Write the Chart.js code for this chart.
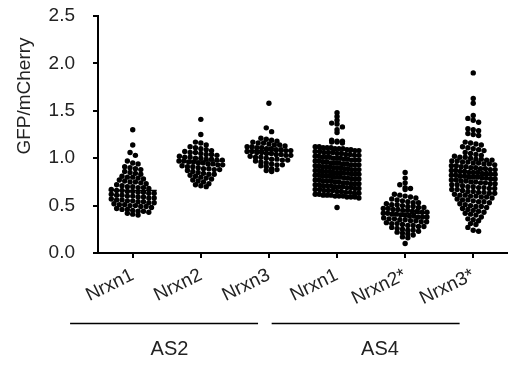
<!DOCTYPE html>
<html>
<head>
<meta charset="utf-8">
<script src="https://cdn.jsdelivr.net/npm/chart.js@4.4.1/dist/chart.umd.min.js"></script>
<style>
  html, body { margin: 0; padding: 0; background: #fff; }
  #wrap { width: 510px; height: 365px; }
</style>
</head>
<body>
<div id="wrap"><canvas id="mySwarmChart"></canvas></div>
<script>
// categories along the x axis and the two construct groups below them
const categories = ["Nrxn1", "Nrxn2", "Nrxn3", "Nrxn1", "Nrxn2*", "Nrxn3*"];
const groupLabels = ["AS2", "AS4"];
const yTicks = [0, 0.5, 1.0, 1.5, 2.0, 2.5];

// GFP/mCherry ratio per cell
const as2Nrxn1 = [
  1.30, 1.14, 1.06, 1.03, 0.97, 0.95, 0.94, 0.91, 0.90, 0.89, 0.88,
  0.86, 0.85, 0.84, 0.83, 0.81, 0.80, 0.80, 0.79, 0.78,
  0.77, 0.76, 0.75, 0.75, 0.74, 0.73, 0.72, 0.71, 0.70, 0.70, 0.69, 0.69, 0.68,
  0.67, 0.66, 0.66, 0.65, 0.65, 0.64, 0.64, 0.63, 0.63,
  0.62, 0.61, 0.61, 0.60, 0.60, 0.59, 0.59, 0.58, 0.58,
  0.57, 0.56, 0.56, 0.55, 0.55, 0.54, 0.54, 0.53, 0.53,
  0.52, 0.51, 0.51, 0.50, 0.50, 0.49, 0.49, 0.48,
  0.47, 0.46, 0.46, 0.45, 0.44, 0.44, 0.43, 0.42, 0.41, 0.40
];
const as2Nrxn2 = [
  1.41, 1.25, 1.17, 1.16, 1.14, 1.12, 1.11, 1.10, 1.09, 1.08,
  1.07, 1.06, 1.06, 1.05, 1.04, 1.04, 1.03,
  1.02, 1.01, 1.01, 1.00, 1.00, 0.99, 0.99, 0.98, 0.98,
  0.97, 0.97, 0.96, 0.96, 0.95, 0.95, 0.94, 0.94, 0.93, 0.93,
  0.92, 0.91, 0.91, 0.90, 0.89, 0.89, 0.88, 0.88,
  0.87, 0.86, 0.85, 0.84, 0.83, 0.83, 0.82, 0.81, 0.80, 0.79, 0.78,
  0.77, 0.76, 0.75, 0.73, 0.72, 0.71, 0.70
];
const as2Nrxn3 = [
  1.58, 1.32, 1.28, 1.21, 1.20, 1.19, 1.18,
  1.17, 1.16, 1.16, 1.15, 1.14, 1.14, 1.13,
  1.12, 1.12, 1.11, 1.11, 1.10, 1.10, 1.09, 1.09, 1.08, 1.08,
  1.07, 1.07, 1.06, 1.06, 1.05, 1.05, 1.04, 1.04, 1.03, 1.03,
  1.02, 1.01, 1.01, 1.00, 0.99, 0.99, 0.98, 0.98,
  0.97, 0.96, 0.95, 0.94, 0.93, 0.93, 0.92, 0.91, 0.89, 0.88, 0.87, 0.86
];
const as4Nrxn1 = [
  1.48, 1.44, 1.40, 1.37, 1.36, 1.33, 1.30, 1.27,
  1.19, 1.18, 1.18, 1.17, 1.17, 1.16,
  1.12, 1.12, 1.11, 1.11, 1.11, 1.10, 1.10, 1.10, 1.09, 1.09, 1.08, 1.08,
  1.07, 1.07, 1.06, 1.06, 1.06, 1.05, 1.05, 1.04, 1.04, 1.03, 1.03,
  1.02, 1.02, 1.01, 1.01, 1.01, 1.00, 1.00, 1.00, 0.99, 0.99, 0.98, 0.98, 0.98,
  0.97, 0.97, 0.96, 0.96, 0.95, 0.95, 0.95, 0.94, 0.94, 0.93, 0.93, 0.93,
  0.92, 0.92, 0.91, 0.91, 0.91, 0.90, 0.90, 0.90, 0.89, 0.89, 0.88, 0.88, 0.88,
  0.87, 0.87, 0.86, 0.86, 0.86, 0.85, 0.85, 0.85, 0.84, 0.84, 0.83, 0.83, 0.83,
  0.82, 0.82, 0.81, 0.81, 0.81, 0.80, 0.80, 0.80, 0.79, 0.79, 0.78, 0.78, 0.78,
  0.77, 0.77, 0.76, 0.76, 0.76, 0.75, 0.75, 0.74, 0.74, 0.73, 0.73, 0.73,
  0.72, 0.72, 0.71, 0.71, 0.71, 0.70, 0.70, 0.70, 0.69, 0.69, 0.68, 0.68,
  0.67, 0.67, 0.66, 0.66, 0.66, 0.65, 0.65, 0.64, 0.64, 0.63, 0.63,
  0.62, 0.62, 0.61, 0.61, 0.61, 0.60, 0.60, 0.60, 0.59, 0.59, 0.59, 0.58,
  0.48
];
const as4Nrxn2 = [
  0.85, 0.79, 0.74, 0.72, 0.69, 0.68, 0.67,
  0.62, 0.61, 0.60, 0.59, 0.58, 0.57, 0.56, 0.55, 0.54, 0.53, 0.53,
  0.52, 0.51, 0.51, 0.50, 0.49, 0.49, 0.48, 0.48,
  0.47, 0.47, 0.46, 0.46, 0.45, 0.45, 0.44, 0.44, 0.43, 0.43,
  0.42, 0.42, 0.41, 0.41, 0.40, 0.40, 0.39, 0.39, 0.38, 0.38, 0.38,
  0.37, 0.36, 0.36, 0.35, 0.35, 0.34, 0.34, 0.33, 0.33,
  0.32, 0.31, 0.31, 0.30, 0.29, 0.29, 0.28, 0.28,
  0.27, 0.26, 0.25, 0.24, 0.24, 0.23, 0.22, 0.21, 0.20, 0.19,
  0.17, 0.16, 0.10
];
const as4Nrxn3 = [
  1.90, 1.63, 1.58, 1.45, 1.42, 1.40, 1.38,
  1.31, 1.30, 1.29, 1.26, 1.25, 1.24,
  1.17, 1.16, 1.15, 1.14, 1.12, 1.11, 1.10, 1.09, 1.08, 1.06, 1.05, 1.04, 1.03,
  1.02, 1.01, 1.01, 1.00, 0.99, 0.99, 0.98, 0.98,
  0.97, 0.97, 0.96, 0.96, 0.95, 0.95, 0.94, 0.94, 0.93,
  0.92, 0.92, 0.91, 0.91, 0.90, 0.90, 0.89, 0.89, 0.88, 0.88,
  0.87, 0.87, 0.86, 0.86, 0.85, 0.85, 0.85, 0.84, 0.84, 0.83, 0.83,
  0.82, 0.82, 0.81, 0.81, 0.80, 0.80, 0.80, 0.79, 0.79, 0.78, 0.78,
  0.77, 0.77, 0.76, 0.76, 0.75, 0.75, 0.74, 0.74, 0.73, 0.73,
  0.72, 0.72, 0.71, 0.70, 0.70, 0.69, 0.69, 0.68, 0.68,
  0.67, 0.67, 0.66, 0.65, 0.65, 0.64, 0.64, 0.63, 0.63,
  0.62, 0.61, 0.61, 0.60, 0.60, 0.59, 0.59, 0.58,
  0.57, 0.56, 0.56, 0.55, 0.54, 0.54, 0.53,
  0.52, 0.51, 0.50, 0.49, 0.49, 0.48, 0.47, 0.46, 0.45, 0.44, 0.43,
  0.42, 0.41, 0.40, 0.38, 0.36, 0.35, 0.34, 0.31, 0.30, 0.27, 0.24, 0.23
];
// horizontal line drawn through each group (median)
const medians = [0.66, 0.97, 1.08, 0.83, 0.42, 0.82];

const allGroups = [as2Nrxn1, as2Nrxn2, as2Nrxn3, as4Nrxn1, as4Nrxn2, as4Nrxn3];

const PX_PER_UNIT = 68.6;
const FONT = "'Liberation Sans', Arial, sans-serif";
Chart.defaults.font.family = FONT;
Chart.defaults.font.size = 19;
Chart.defaults.color = "#222";

// spread points sideways in rows like a GraphPad scatter dot plot
const swarm = (values, idx) => {
  const dot = 5.4, maxHalf = 22, binH = 0.05;
  const rows = {};
  values.forEach((v) => {
    const k = Math.round(v / binH);
    (rows[k] = rows[k] || []).push(v);
  });
  const pts = [];
  Object.values(rows).forEach((row) => {
    const n = row.length;
    const step = n > 1 ? Math.min(dot, (2 * maxHalf) / (n - 1)) : 0;
    row.forEach((v, k) => {
      pts.push({ x: idx + ((k - (n - 1) / 2) * step) / PX_PER_UNIT, y: v });
    });
  });
  return pts;
};

const decorations = {
  id: "decorations",
  afterDatasetsDraw(chart) {
    const { ctx, scales } = chart;
    const x = scales.x, y = scales.y;
    ctx.save();
    ctx.strokeStyle = "#000";
    ctx.lineWidth = 1.6;
    medians.forEach((m, i) => {
      const px = x.getPixelForValue(i), py = y.getPixelForValue(m);
      ctx.beginPath();
      ctx.moveTo(px - 24, py);
      ctx.lineTo(px + 24, py);
      ctx.stroke();
    });
    // group brackets under the category labels
    const spans = [[-0.92, 1.84], [2.04, 4.8]];
    const centers = [0.54, 3.63];
    ctx.lineWidth = 1.5;
    ctx.fillStyle = "#222";
    ctx.font = "20px " + FONT;
    ctx.textAlign = "center";
    ctx.textBaseline = "middle";
    spans.forEach((s, i) => {
      ctx.beginPath();
      ctx.moveTo(x.getPixelForValue(s[0]), 323.5);
      ctx.lineTo(x.getPixelForValue(s[1]), 323.5);
      ctx.stroke();
      ctx.fillText(groupLabels[i], x.getPixelForValue(centers[i]), 349);
    });
    // y axis title
    ctx.translate(25, 96);
    ctx.rotate(-Math.PI / 2);
    ctx.font = "19px " + FONT;
    ctx.fillText("GFP/mCherry", 0, 0);
    ctx.restore();
  },
};

let mySwarmChart;
const generateSwarmChart = () => {
  const ctx = document.getElementById("mySwarmChart").getContext("2d");
  if (mySwarmChart) {
    mySwarmChart.destroy();
  }
  mySwarmChart = new Chart(ctx, {
    type: "scatter",
    data: {
      datasets: allGroups.map((vals, i) => ({
        label: categories[i],
        data: swarm(vals, i),
        backgroundColor: "#000",
        borderWidth: 0,
        pointRadius: 2.7,
        pointHoverRadius: 2.7,
      })),
    },
    options: {
      responsive: true,
      maintainAspectRatio: false,
      animation: false,
      layout: { padding: { top: 16, right: 0, bottom: 0, left: 0 } },
      plugins: {
        legend: { display: false },
        tooltip: { enabled: false },
      },
      scales: {
        x: {
          type: "linear",
          min: -0.51,
          max: 5.5,
          afterBuildTicks: (s) => {
            s.ticks = categories.map((c, i) => ({ value: i }));
          },
          afterFit: (s) => {
            s.height = 112;
            s.paddingLeft = 0;
            s.paddingRight = 0;
          },
          border: { display: true, color: "#000", width: 2 },
          grid: {
            drawOnChartArea: false,
            drawTicks: true,
            tickLength: 5,
            color: "#000",
            lineWidth: 2,
          },
          ticks: {
            autoSkip: false,
            minRotation: 26,
            maxRotation: 26,
            padding: 6,
            color: "#222",
            font: { family: FONT, size: 19 },
            callback: (v) => categories[v],
          },
        },
        y: {
          min: 0,
          max: 2.5,
          afterBuildTicks: (s) => {
            s.ticks = yTicks.map((v) => ({ value: v }));
          },
          afterFit: (s) => {
            s.width = 98;
            s.paddingTop = 0;
            s.paddingBottom = 0;
          },
          border: { display: true, color: "#000", width: 2 },
          grid: {
            drawOnChartArea: false,
            drawTicks: true,
            tickLength: 5,
            color: "#000",
            lineWidth: 2,
          },
          ticks: {
            padding: 18,
            color: "#222",
            font: { family: FONT, size: 19 },
            callback: (v) => Number(v).toFixed(1),
          },
        },
      },
    },
    plugins: [decorations],
  });
};
generateSwarmChart();
</script>
</body>
</html>
